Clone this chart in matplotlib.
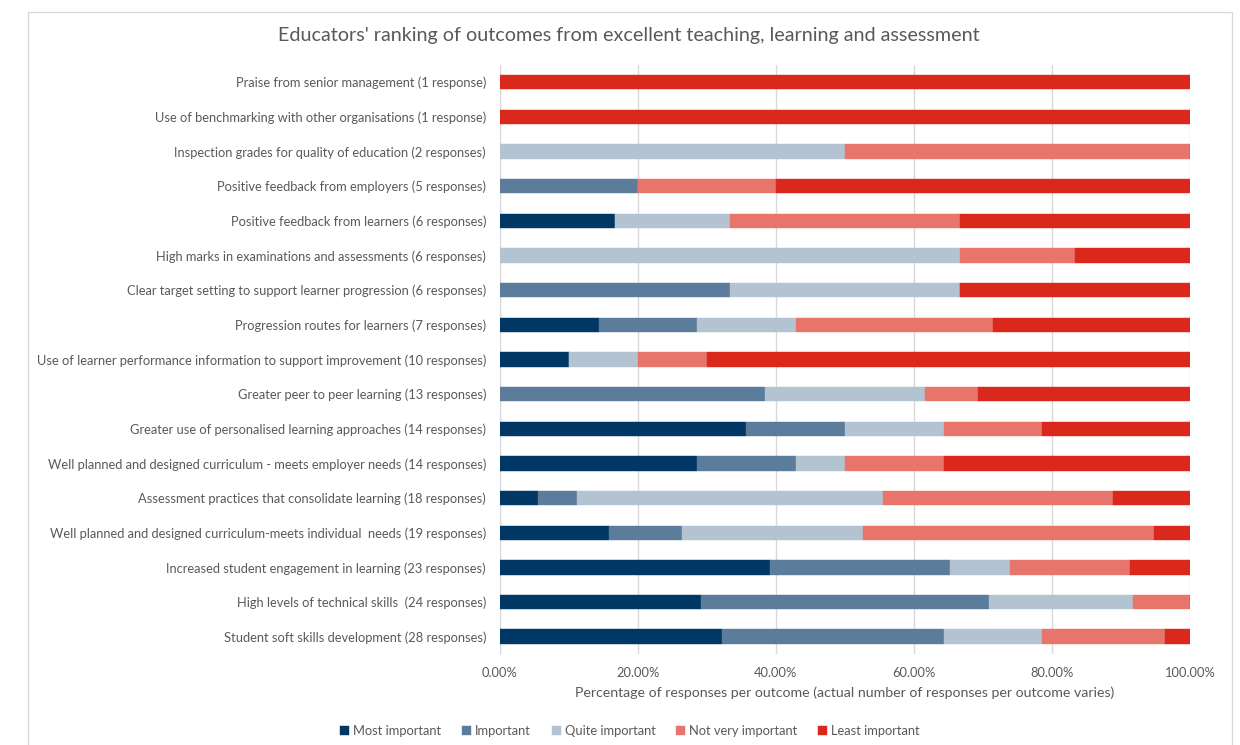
import matplotlib
matplotlib.use("Agg")
import matplotlib.pyplot as plt
import numpy as np
from matplotlib.patches import Rectangle

plt.rcParams['font.family'] = ['Lato', 'DejaVu Sans']

outcomes = [
    "Praise from senior management (1 response)",
    "Use of benchmarking with other organisations (1 response)",
    "Inspection grades for quality of education (2 responses)",
    "Positive feedback from employers (5 responses)",
    "Positive feedback from learners (6 responses)",
    "High marks in examinations and assessments (6 responses)",
    "Clear target setting to support learner progression (6 responses)",
    "Progression routes for learners (7 responses)",
    "Use of learner performance information to support improvement (10 responses)",
    "Greater peer to peer learning (13 responses)",
    "Greater use of personalised learning approaches (14 responses)",
    "Well planned and designed curriculum - meets employer needs (14 responses)",
    "Assessment practices that consolidate learning (18 responses)",
    "Well planned and designed curriculum-meets individual  needs (19 responses)",
    "Increased student engagement in learning (23 responses)",
    "High levels of technical skills  (24 responses)",
    "Student soft skills development (28 responses)",
]

# response counts per ranking
most_important = [0, 0, 0, 0, 1, 0, 0, 1, 1, 0, 5, 4, 1, 3, 9, 7, 9]
important      = [0, 0, 0, 1, 0, 0, 2, 1, 0, 5, 2, 2, 1, 2, 6, 10, 9]
quite_important = [0, 0, 1, 0, 1, 4, 2, 1, 1, 3, 2, 1, 8, 5, 2, 5, 4]
not_very       = [0, 0, 1, 1, 2, 1, 0, 2, 1, 1, 2, 2, 6, 8, 4, 2, 5]
least          = [1, 1, 0, 3, 2, 1, 2, 2, 7, 4, 3, 5, 2, 1, 2, 0, 1]

series = [
    ("Most important", most_important, "#003764"),
    ("Important", important, "#5B7D9B"),
    ("Quite important", quite_important, "#B4C3D2"),
    ("Not very important", not_very, "#E8756B"),
    ("Least important", least, "#DA291C"),
]

totals = np.sum([s[1] for s in series], axis=0).astype(float)

fig = plt.figure(figsize=(12.4, 7.45), dpi=100)
ax = fig.add_axes([0.4032, 0.122, 0.5565, 0.791])

y = np.arange(len(outcomes))
left = np.zeros(len(outcomes))
for name, vals, col in series:
    frac = np.array(vals) / totals
    ax.barh(y, frac, left=left, height=0.42, color=col, label=name,
            edgecolor=col, linewidth=0.3, zorder=3)
    left += frac

ax.set_xlim(0, 1)
ax.set_ylim(len(outcomes) - 0.5, -0.5)
ax.set_yticks(y)
ax.set_yticklabels(outcomes, fontsize=9.3, color="#595959")
ax.set_xticks(np.linspace(0, 1, 6))
ax.set_xticklabels(["%.2f%%" % (v * 100) for v in np.linspace(0, 1, 6)],
                   fontsize=9.3, color="#595959")
ax.tick_params(axis='y', length=0, pad=10)
ax.tick_params(axis='x', length=0, pad=9)
ax.grid(axis='x', color="#D9D9D9", linewidth=1, zorder=0)
for s in ["top", "right", "bottom"]:
    ax.spines[s].set_visible(False)
ax.spines["left"].set_color("#D9D9D9")

ax.set_xlabel("Percentage of responses per outcome (actual number of responses per outcome varies)",
              fontsize=10.2, color="#595959", labelpad=6)

fig.text(0.507, 0.952, "Educators' ranking of outcomes from excellent teaching, learning and assessment",
         ha="center", va="center", fontsize=14.2, color="#595959")

handles, labels = ax.get_legend_handles_labels()
fig.legend(handles, labels, loc="center", bbox_to_anchor=(0.508, 0.019), ncol=5,
           frameon=False, fontsize=9.3, handlelength=0.7, handleheight=0.7,
           handletextpad=0.3, columnspacing=1.6, labelcolor="#595959")

fig.patches.append(Rectangle((28 / 1240, -0.05), 1204 / 1240, 1.05 - 12 / 745,
                             transform=fig.transFigure, fill=False,
                             edgecolor="#D9D9D9", linewidth=1))

fig.savefig("out.png", dpi=100)
